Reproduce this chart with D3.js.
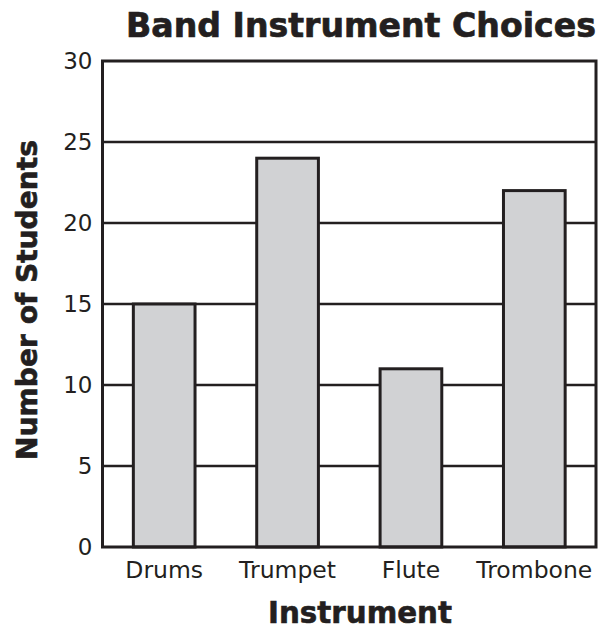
<!DOCTYPE html>
<html>
<head>
<meta charset="utf-8">
<script src="https://cdn.jsdelivr.net/npm/d3@7"></script>
<style>
  html, body { margin: 0; padding: 0; background: #fff; }
  svg { display: block; }
  text { font-family: "DejaVu Sans", Verdana, sans-serif; fill: #231f20; }
</style>
</head>
<body>
<svg id="chart" width="602" height="630"></svg>
<script>
const categories = ["Drums", "Trumpet", "Flute", "Trombone"];
const values = [15, 24, 11, 22];
const yTicks = [0, 5, 10, 15, 20, 25, 30];
const titleText = "Band Instrument Choices";
const xTitle = "Instrument";
const yTitle = "Number of Students";

const svg = d3.select("#chart");
const ink = "#231f20";
const plotLeft = 102.5, plotRight = 596, plotTop = 61, plotBottom = 547;

const x = d3.scaleBand().domain(categories).range([plotLeft, plotRight]).paddingInner(0.5).paddingOuter(0.25);
const y = d3.scaleLinear().domain([0, 30]).range([plotBottom, plotTop]);

// grid lines
svg.append("g").selectAll("line").data(yTicks.filter(t => t > 0 && t < 30)).join("line")
  .attr("x1", plotLeft).attr("x2", plotRight)
  .attr("y1", d => y(d)).attr("y2", d => y(d))
  .attr("stroke", ink).attr("stroke-width", 2.5);

// bars
svg.append("g").selectAll("rect").data(categories).join("rect")
  .attr("x", d => x(d))
  .attr("y", (d, i) => y(values[i]))
  .attr("width", x.bandwidth())
  .attr("height", (d, i) => y(0) - y(values[i]))
  .attr("fill", "#d1d2d4")
  .attr("stroke", ink).attr("stroke-width", 3);

// frame
svg.append("rect").attr("x", plotLeft).attr("y", plotTop)
  .attr("width", plotRight - plotLeft).attr("height", plotBottom - plotTop)
  .attr("fill", "none").attr("stroke", ink).attr("stroke-width", 3);

// y axis labels
const yAxis = d3.axisLeft(y).tickValues(yTicks).tickSize(0).tickPadding(10);
const gy = svg.append("g").attr("transform", `translate(${plotLeft},0)`).call(yAxis);
gy.select(".domain").remove();
gy.selectAll("text").style("font-family", '"DejaVu Sans", Verdana, sans-serif')
  .style("font-size", "23px").style("fill", ink);

// x axis labels
const xAxis = d3.axisBottom(x).tickSize(0).tickPadding(14);
const gx = svg.append("g").attr("transform", `translate(0,${plotBottom})`).call(xAxis);
gx.select(".domain").remove();
gx.selectAll("text").style("font-family", '"DejaVu Sans", Verdana, sans-serif')
  .style("font-size", "23.5px").style("fill", ink);

function fit(sel, targetWidth) {
  const w = sel.node().getComputedTextLength();
  const fs = parseFloat(sel.style("font-size"));
  sel.style("font-size", (fs * targetWidth / w) + "px");
}

const t = svg.append("text").attr("x", 361).attr("y", 37).attr("text-anchor", "middle")
  .style("font-weight", "bold").style("font-size", "32px")
  .style("stroke", ink).style("stroke-width", 0.7).text(titleText);
fit(t, 470);

const xt = svg.append("text").attr("x", 360).attr("y", 623).attr("text-anchor", "middle")
  .style("font-weight", "bold").style("font-size", "28px")
  .style("stroke", ink).style("stroke-width", 0.6).text(xTitle);
fit(xt, 184);

const yt = svg.append("text").attr("transform", "translate(37,300) rotate(-90)").attr("text-anchor", "middle")
  .style("font-weight", "bold").style("font-size", "28px")
  .style("stroke", ink).style("stroke-width", 0.6).text(yTitle);
fit(yt, 320);
</script>
</body>
</html>
